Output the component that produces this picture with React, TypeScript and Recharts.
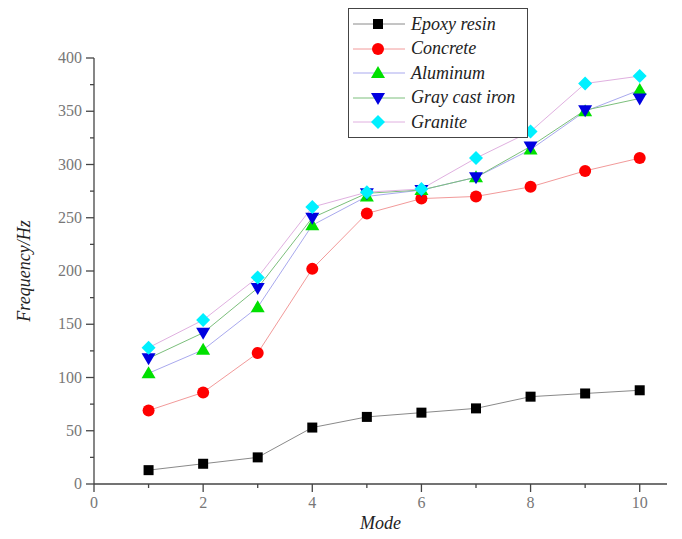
import { LineChart, Line, XAxis, YAxis } from "recharts";

const modes = [1, 2, 3, 4, 5, 6, 7, 8, 9, 10];
const epoxyResin = [13, 19, 25, 53, 63, 67, 71, 82, 85, 88];
const concrete = [69, 86, 123, 202, 254, 268, 270, 279, 294, 306];
const aluminum = [104, 126, 166, 243, 270, 276, 288, 314, 350, 370];
const grayCastIron = [118, 142, 184, 250, 273, 276, 288, 317, 351, 362];
const granite = [128, 154, 194, 260, 274, 277, 306, 331, 376, 383];

const xTicks = [0, 1, 2, 3, 4, 5, 6, 7, 8, 9, 10];
const yTicks = [0, 25, 50, 75, 100, 125, 150, 175, 200, 225, 250, 275, 300, 325, 350, 375, 400];

const data = modes.map((m, i) => ({
  mode: m,
  epoxy: epoxyResin[i],
  concrete: concrete[i],
  aluminum: aluminum[i],
  gray: grayCastIron[i],
  granite: granite[i],
}));

const FONT = "'Liberation Serif', 'Times New Roman', serif";
const AXIS = "#444";
const TICK_TEXT = "#777";

type Shape = "square" | "circle" | "triangle" | "down" | "diamond";

function marker(shape: Shape, fill: string, cx: number, cy: number, key?: string) {
  switch (shape) {
    case "square":
      return <rect key={key} x={cx - 5} y={cy - 5} width={10} height={10} fill={fill} />;
    case "circle":
      return <circle key={key} cx={cx} cy={cy} r={6} fill={fill} />;
    case "triangle":
      return <polygon key={key} points={`${cx},${cy - 7} ${cx + 7},${cy + 5} ${cx - 7},${cy + 5}`} fill={fill} />;
    case "down":
      return <polygon key={key} points={`${cx},${cy + 7} ${cx + 7},${cy - 5} ${cx - 7},${cy - 5}`} fill={fill} />;
    default:
      return <polygon key={key} points={`${cx},${cy - 7} ${cx + 7},${cy} ${cx},${cy + 7} ${cx - 7},${cy}`} fill={fill} />;
  }
}

const series = [
  { key: "epoxy", name: "Epoxy resin", line: "#8a8a8a", fill: "#000000", shape: "square" as Shape },
  { key: "concrete", name: "Concrete", line: "#f29a9a", fill: "#ff0000", shape: "circle" as Shape },
  { key: "aluminum", name: "Aluminum", line: "#a9a9ee", fill: "#00e000", shape: "triangle" as Shape },
  { key: "gray", name: "Gray cast iron", line: "#7cbf7c", fill: "#0000e0", shape: "down" as Shape },
  { key: "granite", name: "Granite", line: "#e0b0e0", fill: "#00f0ff", shape: "diamond" as Shape },
];

function YTick(props: any) {
  const { x, y, payload } = props;
  const axisX = x + 12;
  const major = payload.value % 50 === 0;
  return (
    <g>
      <line x1={axisX - (major ? 8 : 4)} x2={axisX} y1={y} y2={y} stroke={AXIS} strokeWidth={1.3} />
      {major && (
        <text x={x} y={y} dy={5} textAnchor="end" fill={TICK_TEXT} fontSize={16} fontFamily={FONT}>
          {payload.value}
        </text>
      )}
    </g>
  );
}

function XTick(props: any) {
  const { x, y, payload } = props;
  const axisY = y - 10;
  const major = payload.value % 2 === 0;
  return (
    <g>
      <line x1={x} x2={x} y1={axisY} y2={axisY + (major ? 8 : 4)} stroke={AXIS} strokeWidth={1.3} />
      {major && (
        <text x={x} y={y} dy={14} textAnchor="middle" fill={TICK_TEXT} fontSize={16} fontFamily={FONT}>
          {payload.value}
        </text>
      )}
    </g>
  );
}

function YLabel(props: any) {
  const vb = props.viewBox || { y: 58, height: 426 };
  const cy = vb.y + vb.height / 2;
  return (
    <text
      x={30}
      y={cy}
      transform={`rotate(-90, 30, ${cy})`}
      textAnchor="middle"
      fontSize={18}
      fontStyle="italic"
      fontFamily={FONT}
      fill="#222"
    >
      Frequency/Hz
    </text>
  );
}

function LegendBox() {
  return (
    <div
      style={{
        position: "absolute",
        left: 348,
        top: 8,
        border: "1.5px solid #444",
        background: "#fff",
        padding: "3px 6px 2px 2px",
        fontFamily: FONT,
        fontStyle: "italic",
        fontSize: 18,
        color: "#222",
        width: 170,
      }}
    >
      {series.map((s) => (
        <div key={s.key} style={{ display: "flex", alignItems: "center", height: 24.5 }}>
          <svg width={56} height={16} style={{ marginRight: 4 }}>
            <line x1={2} x2={54} y1={8} y2={8} stroke={s.line} strokeWidth={1} />
            {marker(s.shape, s.fill, 27, 8)}
          </svg>
          <span style={{ whiteSpace: "nowrap" }}>{s.name}</span>
        </div>
      ))}
    </div>
  );
}

export default function App() {
  return (
    <div style={{ position: "absolute", left: 0, top: 0, width: 682, height: 539, background: "#fff" }}>
      <LineChart width={682} height={539} data={data} margin={{ top: 58, right: 15, bottom: 25, left: 44 }}>
        <XAxis
          dataKey="mode"
          type="number"
          domain={[0, 10.5]}
          ticks={xTicks}
          interval={0}
          allowDataOverflow
          height={30}
          tickSize={6}
          tickMargin={4}
          tickLine={false}
          tick={<XTick />}
          axisLine={{ stroke: AXIS, strokeWidth: 1.3 }}
          label={{
            value: "Mode",
            position: "bottom",
            offset: 2,
            fontSize: 18,
            fontStyle: "italic",
            fontFamily: FONT,
            fill: "#222",
          }}
        />
        <YAxis
          type="number"
          domain={[0, 400]}
          ticks={yTicks}
          interval={0}
          width={50}
          tickSize={8}
          tickMargin={4}
          tickLine={false}
          tick={<YTick />}
          axisLine={{ stroke: AXIS, strokeWidth: 1.3 }}
          label={<YLabel />}
        />
        {series.map((s) => (
          <Line
            key={s.key}
            dataKey={s.key}
            name={s.name}
            stroke={s.line}
            strokeWidth={1}
            isAnimationActive={false}
            dot={(p: any) => marker(s.shape, s.fill, p.cx, p.cy, `${s.key}-${p.index}`)}
            activeDot={false}
          />
        ))}
      </LineChart>
      <LegendBox />
    </div>
  );
}
